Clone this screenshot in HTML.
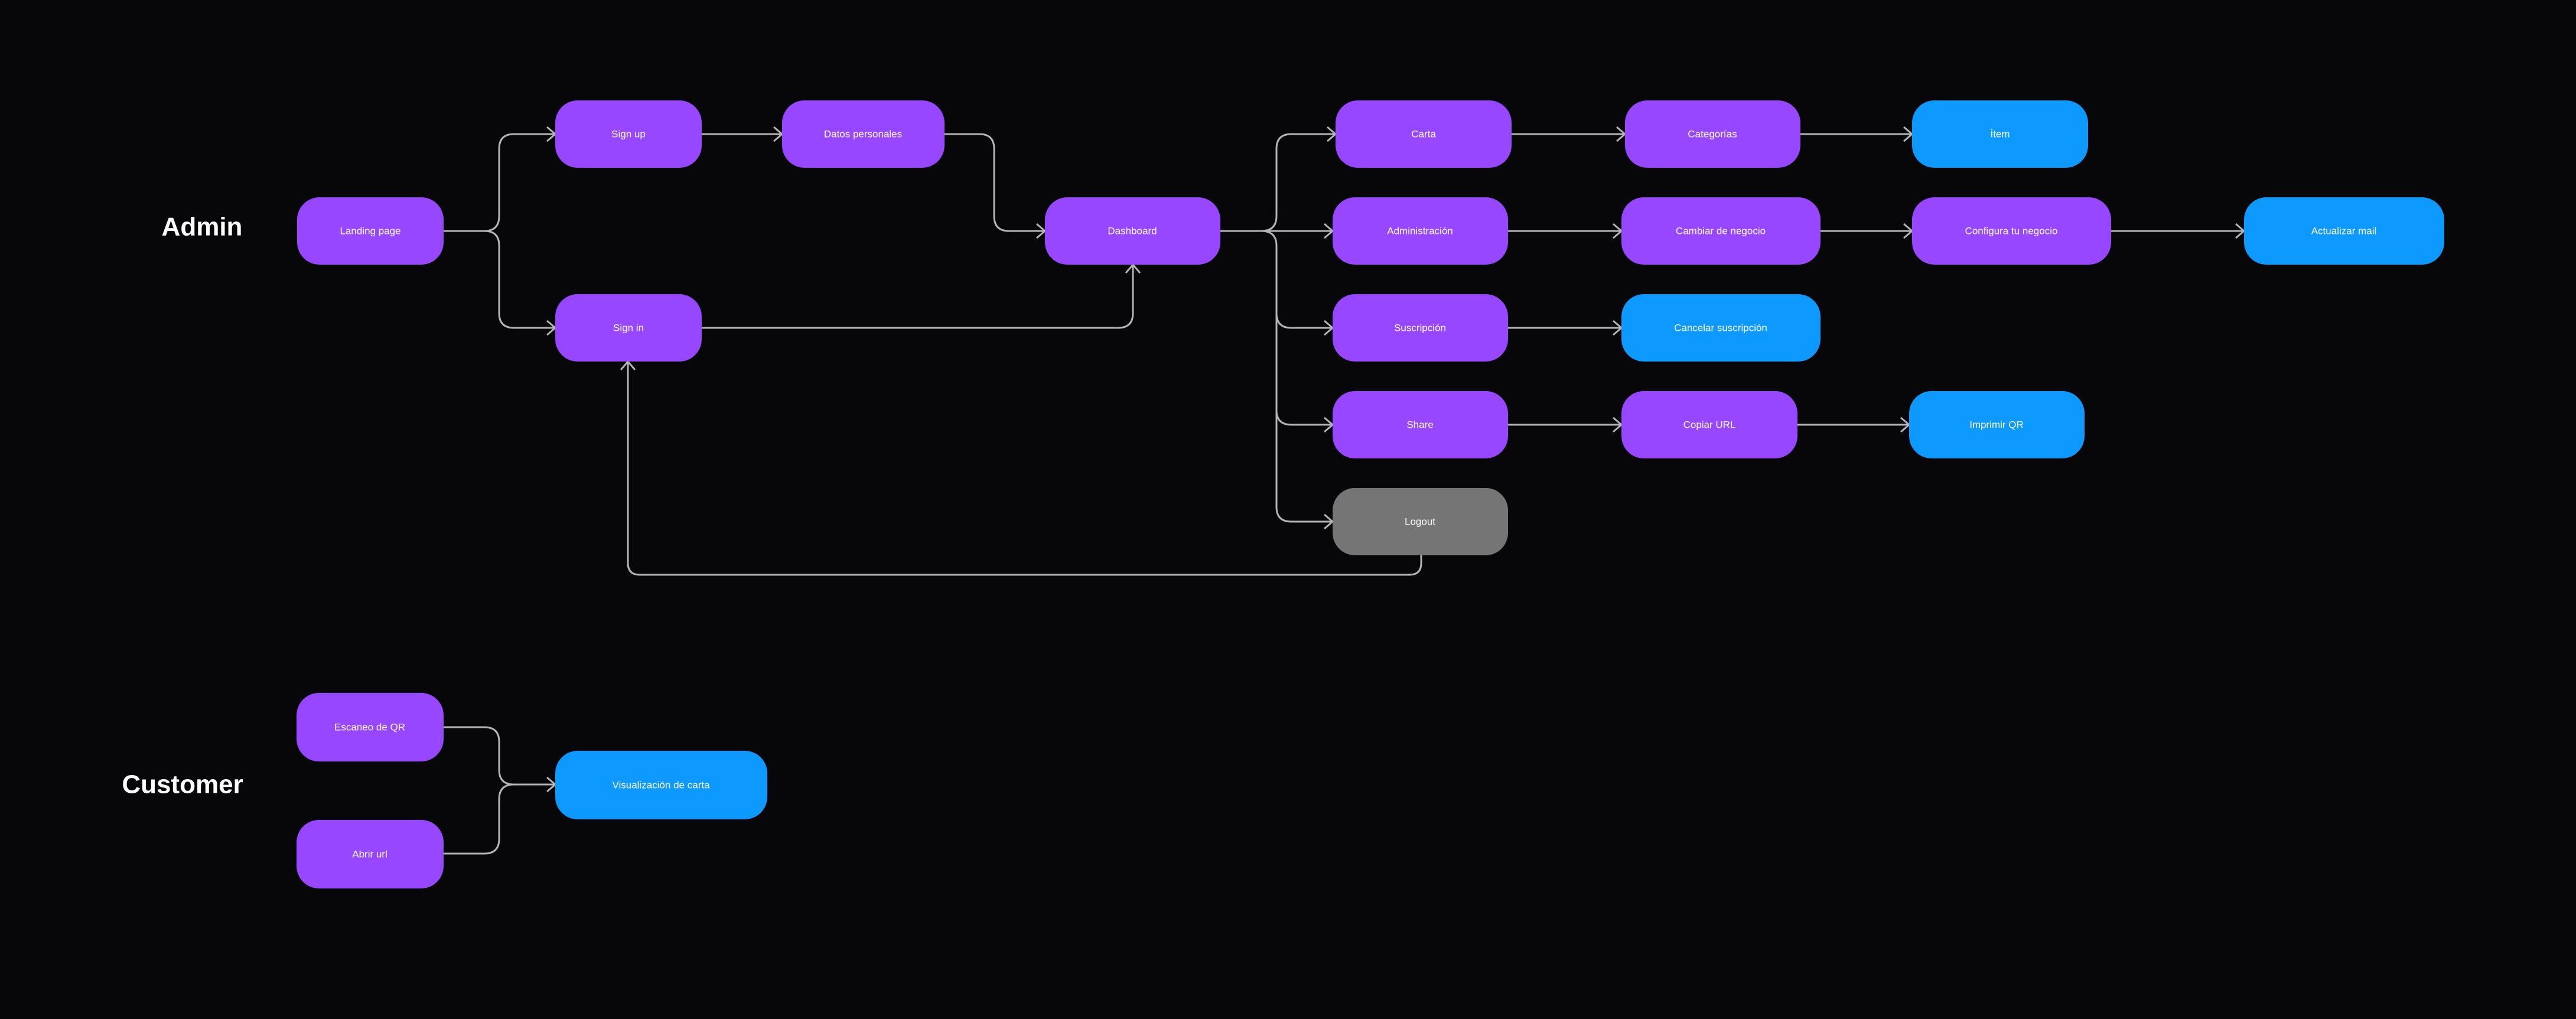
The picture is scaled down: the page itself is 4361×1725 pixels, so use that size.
<!DOCTYPE html>
<html><head><meta charset="utf-8"><style>
html,body{margin:0;padding:0;background:#07070a;}
svg{display:block}
.n{font-family:"Liberation Sans",sans-serif;font-size:17px;fill:#fff;text-anchor:middle;dominant-baseline:central}
.h{font-family:"Liberation Sans",sans-serif;font-size:44px;font-weight:bold;fill:#fff;text-anchor:middle;dominant-baseline:central}
.l{fill:none;stroke:#b4b4b4;stroke-width:3}
.p{fill:#9747ff}.b{fill:#0d99ff}.g{fill:#757575}
</style></head><body>
<svg width="4361" height="1725" viewBox="0 0 4361 1725" xmlns="http://www.w3.org/2000/svg">
<rect width="4361" height="1725" fill="#07070a"/>
<text class="h" x="342" y="384">Admin</text>
<text class="h" x="309" y="1328">Customer</text>

<g class="l">
<path d="M751 391 H820 Q845 391 845 366 V252 Q845 227 870 227 H938"/>
<path d="M751 391 H820 Q845 391 845 416 V530 Q845 555 870 555 H938"/>
<path d="M1188 227 H1322"/>
<path d="M1599 227 H1658 Q1683 227 1683 252 V366 Q1683 391 1708 391 H1767"/>
<path d="M1188 555 H1893 Q1918 555 1918 530 V450"/>
<path d="M2066 391 H2135 Q2161 391 2161 366 V252 Q2161 227 2186 227 H2259"/>
<path d="M2066 391 H2254"/>
<path d="M2135 391 Q2161 391 2161 416 V530 Q2161 555 2186 555 H2254"/>
<path d="M2161 530 V694 Q2161 719 2186 719 H2254"/>
<path d="M2161 694 V858 Q2161 883 2186 883 H2254"/>
<path d="M2559 227 H2749"/>
<path d="M3048 227 H3235"/>
<path d="M2553 391 H2743"/>
<path d="M3082 391 H3235"/>
<path d="M3574 391 H3797"/>
<path d="M2553 555 H2743"/>
<path d="M2553 719 H2743"/>
<path d="M3043 719 H3230"/>
<path d="M2406 940 V953 Q2406 973 2386 973 H1083 Q1063 973 1063 953 V614"/>
<path d="M751 1231 H820 Q845 1231 845 1256 V1303 Q845 1328 870 1328 H938"/>
<path d="M751 1445 H820 Q845 1445 845 1420 V1353 Q845 1328 870 1328"/>
<path d="M926 215 L940 227 L926 239"/>
<path d="M926 543 L940 555 L926 567"/>
<path d="M1310 215 L1324 227 L1310 239"/>
<path d="M1755 379 L1769 391 L1755 403"/>
<path d="M1906 462 L1918 448 L1930 462"/>
<path d="M2247 215 L2261 227 L2247 239"/>
<path d="M2242 379 L2256 391 L2242 403"/>
<path d="M2242 543 L2256 555 L2242 567"/>
<path d="M2242 707 L2256 719 L2242 731"/>
<path d="M2242 871 L2256 883 L2242 895"/>
<path d="M2737 215 L2751 227 L2737 239"/>
<path d="M3223 215 L3237 227 L3223 239"/>
<path d="M2731 379 L2745 391 L2731 403"/>
<path d="M3223 379 L3237 391 L3223 403"/>
<path d="M3785 379 L3799 391 L3785 403"/>
<path d="M2731 543 L2745 555 L2731 567"/>
<path d="M2731 707 L2745 719 L2731 731"/>
<path d="M3218 707 L3232 719 L3218 731"/>
<path d="M1051 626 L1063 612 L1075 626"/>
<path d="M926 1316 L940 1328 L926 1340"/>
</g>

<rect class="p" x="503" y="334" width="248" height="114" rx="38"/><text class="n" x="627" y="391">Landing page</text>
<rect class="p" x="940" y="170" width="248" height="114" rx="38"/><text class="n" x="1064" y="227">Sign up</text>
<rect class="p" x="1324" y="170" width="275" height="114" rx="38"/><text class="n" x="1461" y="227">Datos personales</text>
<rect class="p" x="940" y="498" width="248" height="114" rx="38"/><text class="n" x="1064" y="555">Sign in</text>
<rect class="p" x="1769" y="334" width="297" height="114" rx="38"/><text class="n" x="1917" y="391">Dashboard</text>
<rect class="p" x="2261" y="170" width="298" height="114" rx="38"/><text class="n" x="2410" y="227">Carta</text>
<rect class="p" x="2751" y="170" width="297" height="114" rx="38"/><text class="n" x="2899" y="227">Categorías</text>
<rect class="b" x="3237" y="170" width="298" height="114" rx="38"/><text class="n" x="3386" y="227">Ítem</text>
<rect class="p" x="2256" y="334" width="297" height="114" rx="38"/><text class="n" x="2404" y="391">Administración</text>
<rect class="p" x="2745" y="334" width="337" height="114" rx="38"/><text class="n" x="2913" y="391">Cambiar de negocio</text>
<rect class="p" x="3237" y="334" width="337" height="114" rx="38"/><text class="n" x="3405" y="391">Configura tu negocio</text>
<rect class="b" x="3799" y="334" width="339" height="114" rx="38"/><text class="n" x="3968" y="391">Actualizar mail</text>
<rect class="p" x="2256" y="498" width="297" height="114" rx="38"/><text class="n" x="2404" y="555">Suscripción</text>
<rect class="b" x="2745" y="498" width="337" height="114" rx="38"/><text class="n" x="2913" y="555">Cancelar suscripción</text>
<rect class="p" x="2256" y="662" width="297" height="114" rx="38"/><text class="n" x="2404" y="719">Share</text>
<rect class="p" x="2745" y="662" width="298" height="114" rx="38"/><text class="n" x="2894" y="719">Copiar URL</text>
<rect class="b" x="3232" y="662" width="297" height="114" rx="38"/><text class="n" x="3380" y="719">Imprimir QR</text>
<rect class="g" x="2256" y="826" width="297" height="114" rx="38"/><text class="n" x="2404" y="883">Logout</text>
<rect class="p" x="502" y="1173" width="249" height="116" rx="38"/><text class="n" x="626" y="1231">Escaneo de QR</text>
<rect class="p" x="502" y="1388" width="249" height="116" rx="38"/><text class="n" x="626" y="1446">Abrir url</text>
<rect class="b" x="940" y="1271" width="359" height="116" rx="38"/><text class="n" x="1119" y="1329">Visualización de carta</text>
</svg>
</body></html>
